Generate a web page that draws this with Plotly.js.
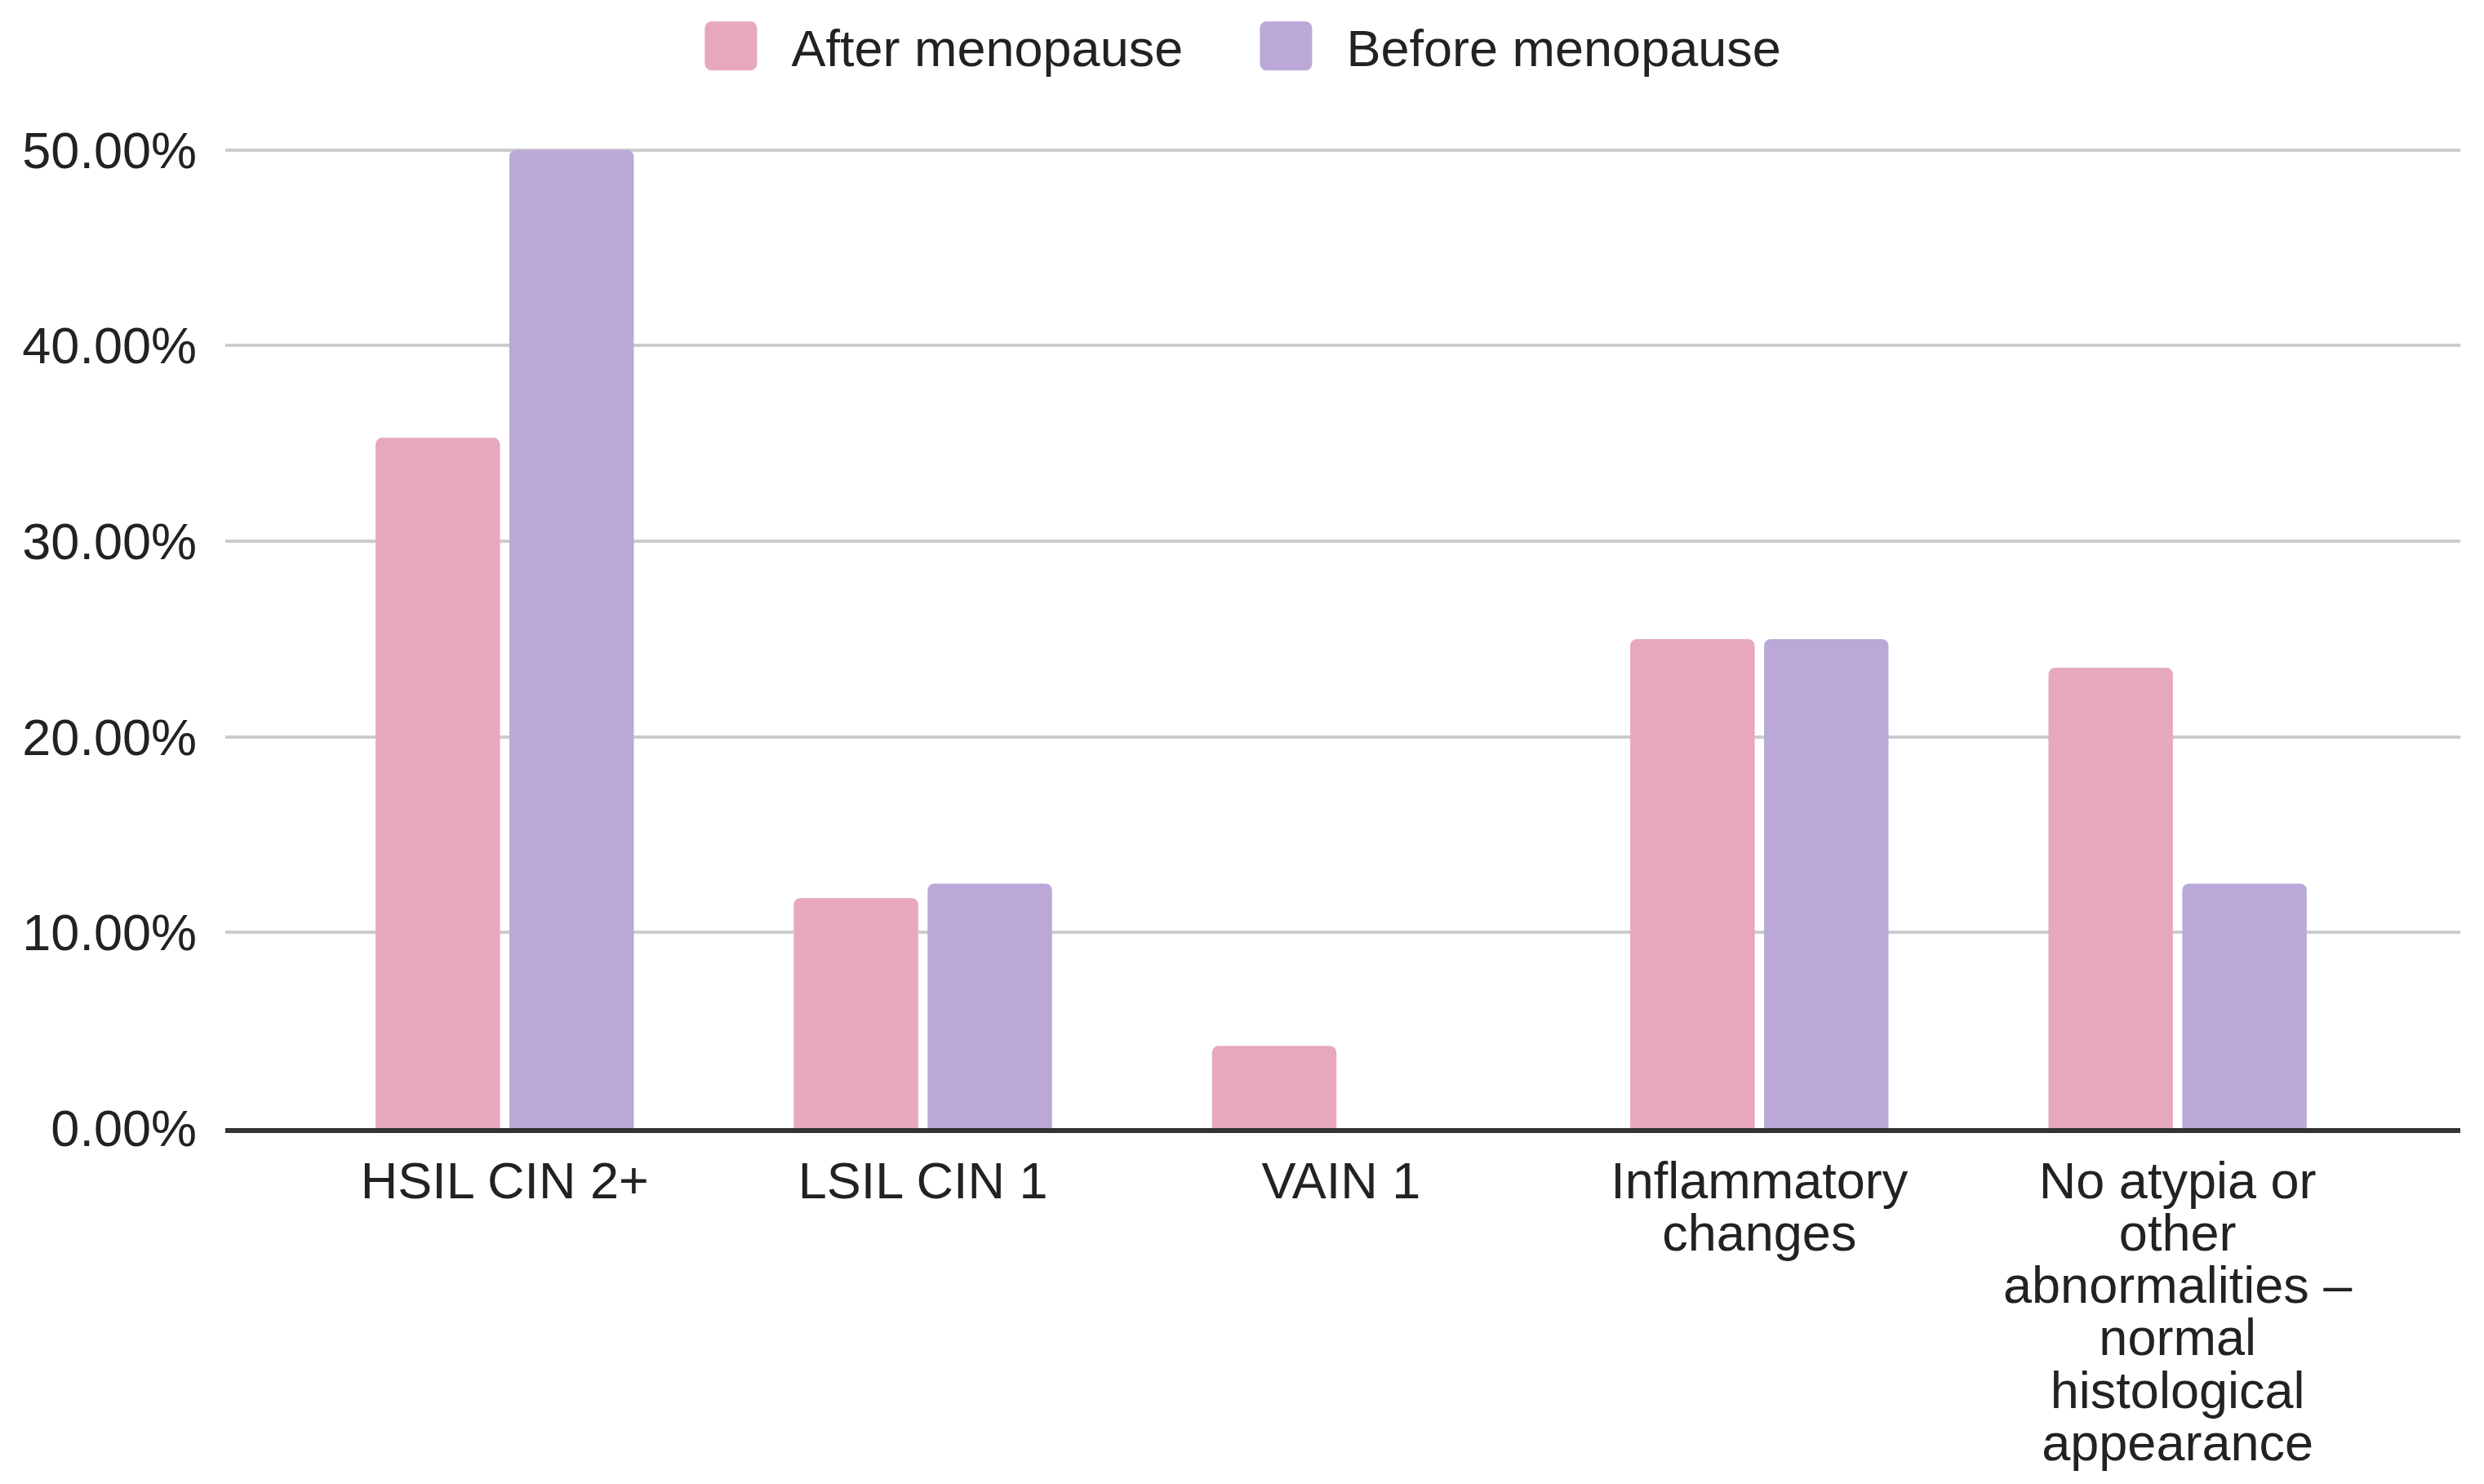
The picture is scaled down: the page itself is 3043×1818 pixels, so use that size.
<!DOCTYPE html>
<html><head><meta charset="utf-8">
<script src="https://cdn.plot.ly/plotly-3.0.1.min.js"></script>
<style>html,body{margin:0;padding:0;background:#fff}#chart{width:3043px;height:1818px}</style>
</head><body><div id="chart"></div>
<script>
const categories = ["HSIL CIN 2+", "LSIL CIN 1", "VAIN 1", "Inflammatory<br>changes",
  "No atypia or<br>other<br>abnormalities –<br>normal<br>histological<br>appearance"];
const afterMenopause = [35.29, 11.76, 4.2, 25.0, 23.53];
const beforeMenopause = [50.0, 12.5, 0, 25.0, 12.5];
const seriesNames = ["After menopause", "Before menopause"];
const seriesColors = ["#E7A8BF", "#BAA9D8"];
const yTicks = [0, 10, 20, 30, 40, 50];
const yTickLabels = yTicks.map(v => v.toFixed(2) + "%");

const FONT = '"Liberation Sans", Arial, Helvetica, sans-serif';
const seriesValues = [afterMenopause, beforeMenopause];
const traces = seriesNames.map((name, i) => ({
  type: 'bar', name: name, x: categories, y: seriesValues[i],
  marker: {color: seriesColors[i], line: {width: 0}, cornerradius: 8},
  hoverinfo: 'x+y+name'
}));

const layout = {
  width: 3043, height: 1818,
  margin: {l: 276, r: 29, t: 179, b: 436, autoexpand: false},
  paper_bgcolor: '#ffffff', plot_bgcolor: '#ffffff',
  font: {family: FONT, size: 63, color: '#222222'},
  barmode: 'group', bargap: 0.36, bargroupgap: 0.07,
  xaxis: {type: 'category', range: [-0.668, 4.676], showline: true, linecolor: '#333333', linewidth: 6,
    showgrid: false, zeroline: false, ticks: '', tickfont: {size: 63, color: '#222222'}, ticklabelstandoff: 4},
  yaxis: {range: [0, 50.2], tickmode: 'array', tickvals: yTicks, ticktext: yTickLabels,
    showgrid: true, gridcolor: '#cccccc', gridwidth: 4, zeroline: false, showline: false, ticks: '',
    tickfont: {size: 63, color: '#222222'}, ticklabelstandoff: 34},
  legend: {orientation: 'h', xref: 'container', yref: 'container', x: 0.4934, xanchor: 'center',
    y: 0.969, yanchor: 'middle', font: {size: 63, color: '#222222'}, itemwidth: 138, itemclick: false,
    itemdoubleclick: false, bgcolor: 'rgba(0,0,0,0)', entrywidth: 527},
  showlegend: true
};

const RR = 'M-24,-30H24A8,8 0 0 1 32,-22V22A8,8 0 0 1 24,30H-24A8,8 0 0 1 -32,22V-22A8,8 0 0 1 -24,-30Z';
function tweak() {
  document.querySelectorAll('.xtick text tspan.line').forEach(t => {
    const dy = t.getAttribute('dy');
    if (!t.hasAttribute('data-odDy')) t.setAttribute('data-odDy', dy || '');
    const orig = t.getAttribute('data-odDy');
    if (orig && orig.indexOf('em') > 0) {
      const v = parseFloat(orig);
      t.setAttribute('dy', (v / 1.3 * 1.02).toFixed(3) + 'em');
    }
  });
  document.querySelectorAll('.legend path.legendbar, .legend .legendpoints path').forEach(p => {
    p.setAttribute('d', RR);
    p.style.strokeWidth = '0px';
  });
}
const gd = document.getElementById('chart');
Plotly.newPlot(gd, traces, layout, {displayModeBar: false, staticPlot: true}).then(() => {
  tweak();
  gd.on('plotly_afterplot', tweak);
  setTimeout(tweak, 50);
});
</script>
</body></html>
